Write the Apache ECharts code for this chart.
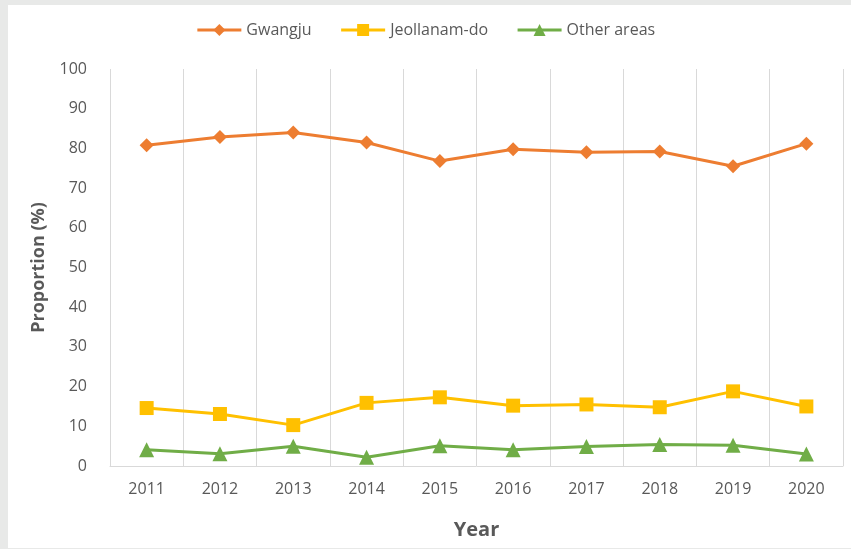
<!DOCTYPE html>
<html>
<head>
<meta charset="utf-8">
<script src="https://cdn.jsdelivr.net/npm/echarts@6/dist/echarts.min.js"></script>
<style>
  html, body { margin: 0; padding: 0; background: #e8e9e8; }
  #main { width: 851px; height: 549px; }
</style>
</head>
<body>
<div id="main"></div>
<script>
// 数据
const years = ['2011', '2012', '2013', '2014', '2015', '2016', '2017', '2018', '2019', '2020'];
const gwangju = [80.8, 82.9, 84.0, 81.5, 76.8, 79.8, 79.0, 79.2, 75.5, 81.2];
const jeollanam = [14.6, 13.1, 10.3, 15.9, 17.3, 15.2, 15.5, 14.8, 18.8, 15.0];
const otherAreas = [4.1, 3.1, 5.0, 2.2, 5.1, 4.1, 4.9, 5.4, 5.2, 3.0];
const yTicks = { min: 0, max: 100, step: 10 };

const labelColor = '#595959';
const gridColor = '#d9d9d9';
const fontName = 'Open Sans';

const myChart = echarts.init(document.getElementById('main'));

function lineSeries(name, data, color, symbol, size) {
    return {
        name: name,
        type: 'line',
        data: data,
        symbol: symbol,
        symbolSize: size,
        lineStyle: { color: color, width: 3 },
        itemStyle: { color: color },
        emphasis: { disabled: true },
        animation: false
    };
}

const option = {
    backgroundColor: '#e8e9e8',
    graphic: [{
        type: 'rect',
        z: -10,
        silent: true,
        shape: { x: 8, y: 5, width: 843, height: 543 },
        style: { fill: '#ffffff' }
    }],
    textStyle: { fontFamily: fontName },
    legend: {
        top: 17,
        left: 'center',
        itemWidth: 44,
        itemHeight: 15,
        itemGap: 28,
        lineStyle: { width: 3 },
        textStyle: { color: labelColor, fontSize: 16, fontFamily: fontName },
        data: ['Gwangju', 'Jeollanam-do', 'Other areas']
    },
    grid: { left: 110, right: 8, top: 69, bottom: 83 },
    xAxis: {
        type: 'category',
        data: years,
        boundaryGap: true,
        name: 'Year',
        nameLocation: 'middle',
        nameGap: 54,
        nameTextStyle: { color: labelColor, fontSize: 20, fontWeight: 'bold', fontFamily: fontName },
        axisLine: { lineStyle: { color: gridColor, width: 1 } },
        axisTick: { show: false },
        axisLabel: { color: labelColor, fontSize: 16, margin: 15, fontFamily: fontName },
        splitLine: { show: true, lineStyle: { color: gridColor, width: 1 } }
    },
    yAxis: {
        type: 'value',
        min: yTicks.min,
        max: yTicks.max,
        interval: yTicks.step,
        name: 'Proportion (%)',
        nameLocation: 'middle',
        nameRotate: 90,
        nameGap: 62,
        nameTextStyle: { color: labelColor, fontSize: 18, fontWeight: 'bold', fontFamily: fontName },
        axisLine: { show: false },
        axisTick: { show: false },
        axisLabel: { color: labelColor, fontSize: 16, margin: 23, fontFamily: fontName },
        splitLine: { show: false }
    },
    series: [
        lineSeries('Gwangju', gwangju, '#ed7d31', 'diamond', 14),
        lineSeries('Jeollanam-do', jeollanam, '#ffc000', 'rect', 14),
        lineSeries('Other areas', otherAreas, '#70ad47', 'triangle', 15)
    ]
};

myChart.setOption(option);
</script>
</body>
</html>
